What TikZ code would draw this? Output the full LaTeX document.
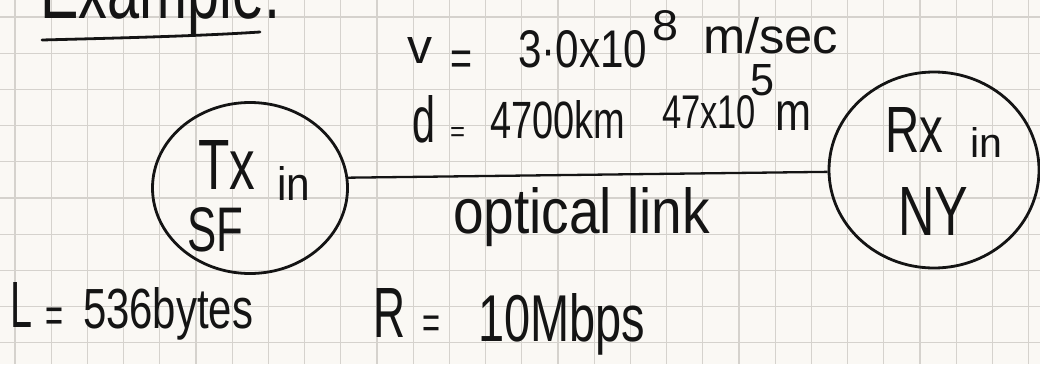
\documentclass[tikz,border=0pt]{standalone}
\usepackage{fontspec}
\setmainfont{Liberation Sans}
\usepackage{graphicx}
\usetikzlibrary{shapes.geometric}
\definecolor{paper}{HTML}{FAF8F4}
\definecolor{gridc}{HTML}{D5D2CD}
\definecolor{ink}{HTML}{141414}
\newcommand\handtxt[3]{\resizebox{#1pt}{#2pt}{#3}}
\begin{document}
\begin{tikzpicture}[x=1pt,y=-1pt,
  hand/.style={anchor=base west, inner sep=0pt, outer sep=0pt, text=ink},
  bubble/.style={ellipse, draw=ink, line width=2.8pt, inner sep=0pt},
  link/.style={draw=ink, line width=2.3pt},
  gridline/.style={draw=gridc, line width=1.3pt}]
\useasboundingbox (0,0) rectangle (1040,364);
\clip (0,0) rectangle (1040,364);
\fill[paper] (0,0) rectangle (1040,364);
\foreach \i in {0,...,28} \draw[gridline] ({15+36.2*\i},0) -- ({15+36.2*\i},364);
\foreach \j in {0,...,9} \draw[gridline] (0,{17+36.2*\j}) -- (1040,{17+36.2*\j});

% title
\node[hand] (ex) at (40,18) {\handtxt{240}{60}{Example:}};
\draw[ink, line width=2.8pt, line cap=round] (42,40) .. controls (120,38) and (200,36) .. (260,32);

% speed line
\node[hand] (v1) at (407,63) {\handtxt{25}{26}{v}};
\node[hand] (v2) at (450,75.5) {\handtxt{22}{24.5}{=}};
\node[hand] (v3) at (518,67) {\handtxt{129}{37}{3·0x10}};
\node[hand] (v4) at (652,40) {\handtxt{26}{30}{8}};
\node[hand] (v5) at (703,53) {\handtxt{135}{36}{m/sec}};

% distance line
\node[hand] (d1) at (412,142) {\handtxt{23}{47}{d}};
\node[hand] (d2) at (450,141) {\handtxt{15}{14}{=}};
\node[hand] (d3) at (490,138) {\handtxt{135}{38}{4700km}};
\node[hand] (d4) at (662,128) {\handtxt{94}{33}{47x10}};
\node[hand] (d5) at (750,95) {\handtxt{24}{31}{5}};
\node[hand] (d6) at (775,130) {\handtxt{36}{29}{m}};

% transmitter
\node[bubble, minimum width=195pt, minimum height=171pt] (tx) at (250,188) {};
\node[hand] (tx1) at (198,189) {\handtxt{57}{49}{Tx}};
\node[hand] (tx2) at (277,200) {\handtxt{33}{34}{in}};
\node[hand] (tx3) at (187,251) {\handtxt{56}{44}{SF}};

% receiver
\node[bubble, minimum width=210pt, minimum height=196pt] (rx) at (934,170) {};
\node[hand] (rx1) at (885,152) {\handtxt{58}{45}{Rx}};
\node[hand] (rx2) at (970,157) {\handtxt{32}{30}{in}};
\node[hand] (rx3) at (898,235) {\handtxt{70}{48}{NY}};

% link
\draw[link] (tx.6) -- (rx.181);
\node[hand] (ol) at (453,233) {\handtxt{257}{46}{optical link}};

% bottom line
\node[hand] (l1) at (10,327) {\handtxt{22}{45}{L}};
\node[hand] (l2) at (45,332.5) {\handtxt{18}{24.5}{=}};
\node[hand] (l3) at (83,328) {\handtxt{170}{41}{536bytes}};
\node[hand] (r1) at (373,337) {\handtxt{32}{49}{R}};
\node[hand] (r2) at (422,338) {\handtxt{18}{22.5}{=}};
\node[hand] (r3) at (478,341) {\handtxt{167}{48}{10Mbps}};
\end{tikzpicture}
\end{document}
